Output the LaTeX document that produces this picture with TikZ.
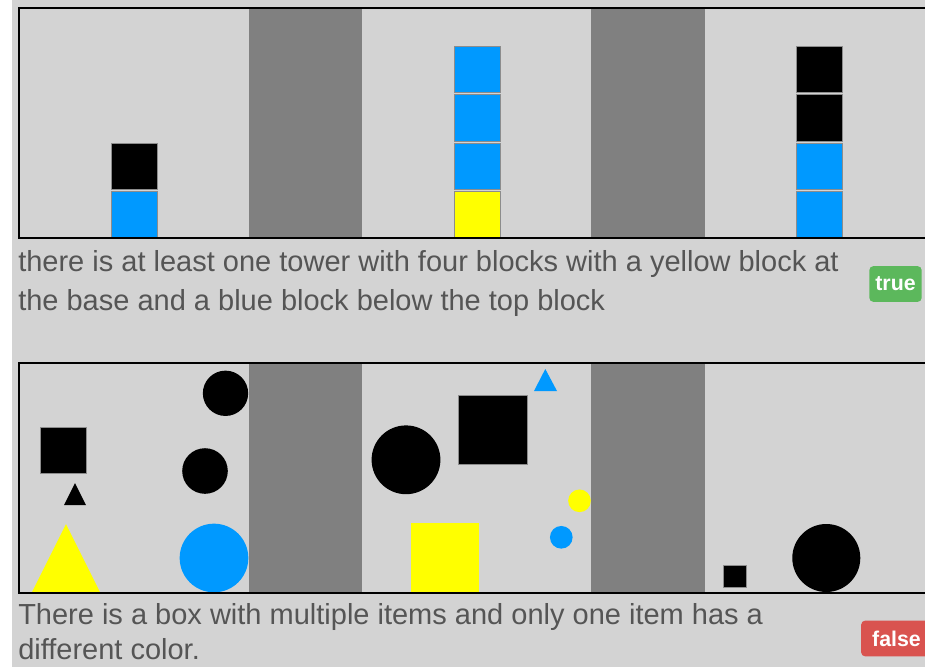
\documentclass[tikz,border=0pt]{standalone}
\usepackage{fontspec}
\setmainfont{Liberation Sans}
\usetikzlibrary{positioning}
\definecolor{boardgray}{RGB}{211,211,211}
\definecolor{walldark}{RGB}{128,128,128}
\definecolor{itemblue}{RGB}{0,153,255}
\definecolor{itemyellow}{RGB}{255,255,0}
\definecolor{captiongray}{RGB}{85,85,85}
\definecolor{truegreen}{RGB}{92,184,92}
\definecolor{falsered}{RGB}{217,83,79}

\begin{document}
\begin{tikzpicture}[
    x=0.75pt, y=-0.75pt,
    node distance=1.5pt,
    block/.style={rectangle, draw=white!55!black, line width=0.3pt, inner sep=0pt,
                  minimum size=34.5pt},
    bigsq/.style={block, minimum size=51.5pt},
    smsq/.style={block, minimum size=17pt},
    disc/.style={circle, inner sep=0pt, minimum size=#1},
    wall/.style={fill=walldark},
    board/.style={draw=black, line width=1.5pt},
    caption/.style={anchor=base west, inner sep=0pt, text=captiongray,
                    font=\fontsize{21.75pt}{26pt}\selectfont},
    badge/.style={rectangle, rounded corners=3pt, text=white, inner xsep=4.5pt,
                  minimum height=26.8pt, font=\bfseries\fontsize{16pt}{18pt}\selectfont}
]
\useasboundingbox (0,0) rectangle (925,667);
\clip (0,0) rectangle (925,667);
\fill[boardgray] (0,0) rectangle (925,667);
\fill[white] (0,0) rectangle (12,667);

% Top board: three boxes split by dark walls
\fill[wall] (249,8) rectangle (362,238);
\fill[wall] (591,8) rectangle (705,238);

% Tower 1
\node[block, fill=itemblue] (ta1) at (134.5,214.5) {};
\node[block, fill=black, above=of ta1] (ta2) {};
% Tower 2
\node[block, fill=itemyellow] (tb1) at (477,214.5) {};
\node[block, fill=itemblue, above=of tb1] (tb2) {};
\node[block, fill=itemblue, above=of tb2] (tb3) {};
\node[block, fill=itemblue, above=of tb3] (tb4) {};
% Tower 3
\node[block, fill=itemblue] (tc1) at (819.5,214.5) {};
\node[block, fill=itemblue, above=of tc1] (tc2) {};
\node[block, fill=black, above=of tc2] (tc3) {};
\node[block, fill=black, above=of tc3] (tc4) {};

\draw[board] (19,8) rectangle (940,238);

\node[caption] (capA1) at (18,271) {there is at least one tower with four blocks with a yellow block at};
\node[caption] (capA2) at (18,310.5) {the base and a blue block below the top block};
\node[badge, fill=truegreen] (verdA) at (895.5,284) {true};

% Bottom board: scattered items
\fill[wall] (249,362.5) rectangle (362,592.5);
\fill[wall] (591,362.5) rectangle (705,592.5);

% Box 1
\node[block, fill=black] (sqA) at (63,450.5) {};
\fill[black] (64,505) -- (75,483) -- (86,505) -- cycle;
\fill[itemyellow] (32,592) -- (66,524) -- (100,592) -- cycle;
\node[disc=34pt, fill=black] (dkA) at (225.5,393.3) {};
\node[disc=34.2pt, fill=black] (dkB) at (205,471) {};
\node[disc=51.5pt, fill=itemblue] (dkC) at (214,558) {};

% Box 2
\fill[itemblue] (534,391) -- (545.3,369) -- (557,391) -- cycle;
\node[bigsq, fill=black] (sqB) at (493,430) {};
\node[disc=51.6pt, fill=black] (dkD) at (406,459.8) {};
\node[bigsq, fill=itemyellow, draw=none] (sqC) at (445,557.5) {};
\node[disc=17pt, fill=itemyellow] (dkE) at (579.5,500.8) {};
\node[disc=17pt, fill=itemblue] (dkF) at (561.3,537.3) {};

% Box 3
\node[smsq, fill=black] (sqD) at (735,576.3) {};
\node[disc=51pt, fill=black] (dkG) at (826.3,558) {};

\draw[board] (19,362.5) rectangle (940,592.5);

\node[caption] (capB1) at (18,624) {There is a box with multiple items and only one item has a};
\node[caption] (capB2) at (18,659) {different color.};
\node[badge, fill=falsered, minimum width=53pt] (verdB) at (896.5,638.5) {false};
\end{tikzpicture}
\end{document}
